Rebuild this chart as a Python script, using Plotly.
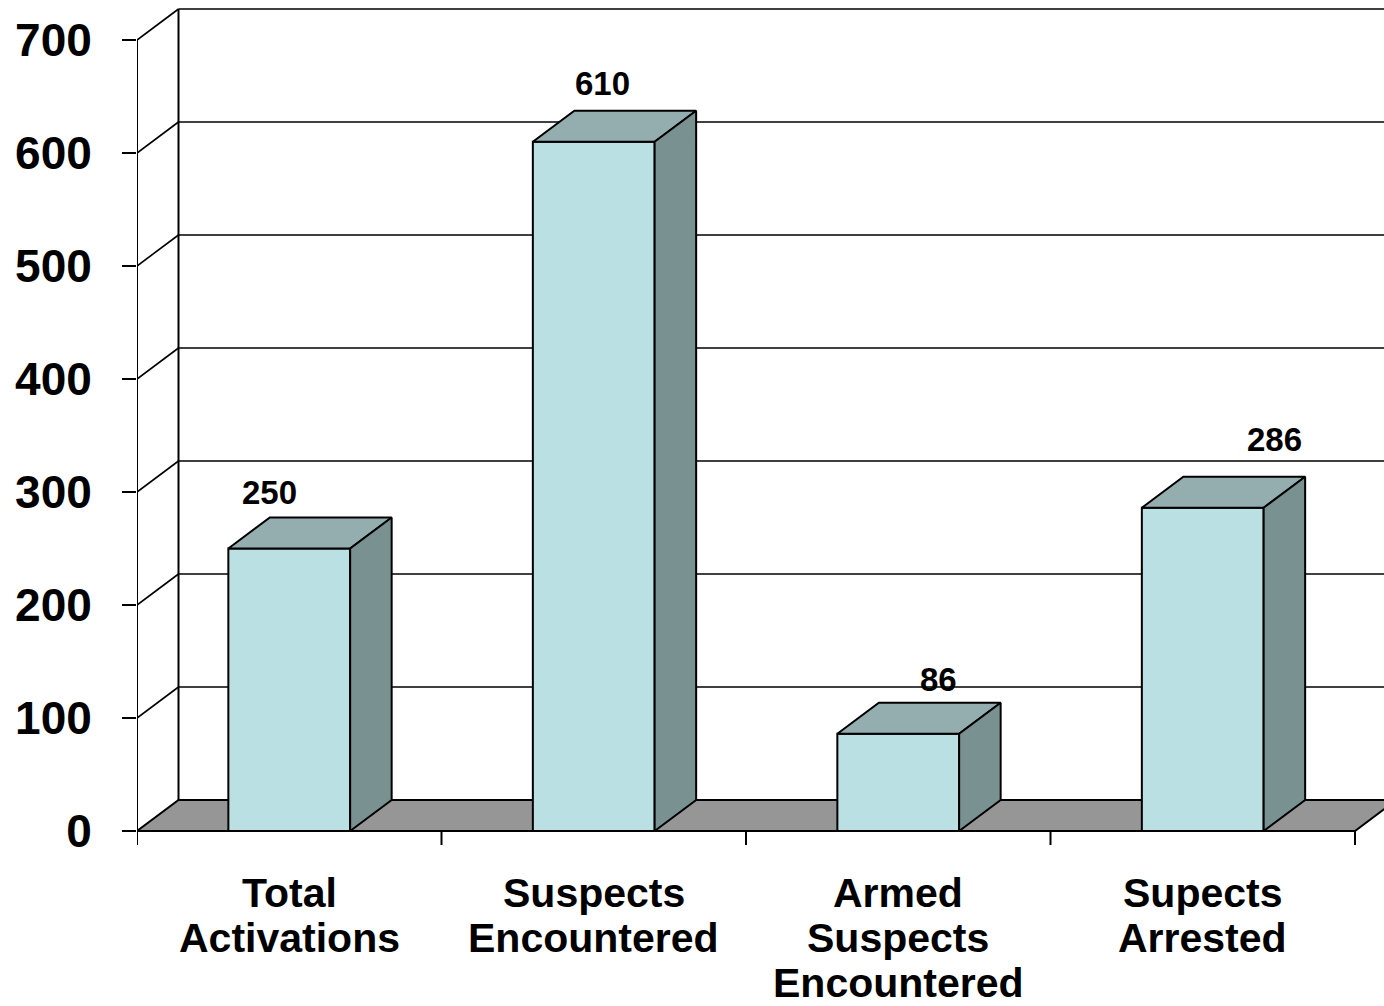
import plotly.graph_objects as go

# ---------------- data ----------------
category_lines = [
    ["Total", "Activations"],
    ["Suspects", "Encountered"],
    ["Armed", "Suspects", "Encountered"],
    ["Supects", "Arrested"],
]
values = [250, 610, 86, 286]
value_labels = ["250", "610", "86", "286"]
y_ticks = [0, 100, 200, 300, 400, 500, 600, 700]

# ---------------- style ----------------
FONT = "Liberation Sans, Arial, sans-serif"
FRONT = "#BBE0E4"
TOP = "#94ADAF"
SIDE = "#7A9192"
FLOOR = "#969696"
W, H = 1384, 1006
ML, MB = 137, 156
px_per_cat = 304.5
px_per_unit = 1.13
depth_px = (41.5, 31.0)
bar_half = 0.2
label_xshift = [-20, 9, 40, 72]
label_yshift = [25, 27, 23, 37]

n = len(values)
x0, x1 = -0.5, -0.5 + (W - ML) / px_per_cat
y1 = 831 / px_per_unit
y0 = y1 - (H - MB) / px_per_unit
ddx = depth_px[0] / px_per_cat
ddy = depth_px[1] / px_per_unit
ymax_tick = y_ticks[-1]

fig = go.Figure()
shapes = []

def line(xa, ya, xb, yb, w=1.6):
    shapes.append(dict(type="line", xref="x", yref="y", x0=xa, y0=ya, x1=xb, y1=yb,
                       line=dict(color="black", width=w), layer="below"))

# back wall gridlines
for v in y_ticks[1:]:
    line(-0.5 + ddx, v + ddy, n - 0.5 + ddx + 1, v + ddy)
# left wall diagonals
for v in y_ticks[1:]:
    line(-0.5, v, -0.5 + ddx, v + ddy)
# back-left vertical and front-left vertical
line(-0.5 + ddx, ddy, -0.5 + ddx, ymax_tick + ddy, 2)
line(-0.5, 0, -0.5, ymax_tick, 2)
# floor
fx = [-0.5, -0.5 + ddx, n - 0.5 + ddx, n - 0.5]
fy = [0, ddy, ddy, 0]
path = "M " + " L ".join(f"{a},{b}" for a, b in zip(fx, fy)) + " Z"
shapes.append(dict(type="path", xref="x", yref="y", path=path, fillcolor=FLOOR,
                   line=dict(color="black", width=2), layer="below"))
# x category ticks
for i in range(n + 1):
    line(i - 0.5, 0, i - 0.5, -14 / px_per_unit, 2)

# bars (front, top, side faces)
for i, v in enumerate(values):
    a, b = i - bar_half, i + bar_half
    faces = [
        ([a, b, b, a, a], [0, 0, v, v, 0], FRONT),
        ([a, a + ddx, b + ddx, b, a], [v, v + ddy, v + ddy, v, v], TOP),
        ([b, b + ddx, b + ddx, b, b], [0, ddy, v + ddy, v, 0], SIDE),
    ]
    for xs, ys, col in faces:
        fig.add_trace(go.Scatter(x=xs, y=ys, mode="lines", fill="toself", fillcolor=col,
                                 line=dict(color="black", width=2), hoverinfo="skip",
                                 showlegend=False))

annotations = []
# value labels
for i, (v, t) in enumerate(zip(values, value_labels)):
    annotations.append(dict(x=i, y=v + ddy, xref="x", yref="y", text=t, showarrow=False,
                            xanchor="center", yanchor="middle",
                            xshift=label_xshift[i], yshift=label_yshift[i],
                            font=dict(family=FONT, size=33, color="black", weight="bold")))
# category labels
for i, lines in enumerate(category_lines):
    for k, t in enumerate(lines):
        annotations.append(dict(x=i, y=0, xref="x", yref="y", text=t, showarrow=False,
                                xanchor="center", yanchor="middle",
                                yshift=-(61.5 + 45 * k),
                                font=dict(family=FONT, size=41, color="black", weight="bold")))

fig.update_layout(
    width=W, height=H,
    margin=dict(l=ML, r=0, t=0, b=MB, pad=0),
    paper_bgcolor="white", plot_bgcolor="white",
    shapes=shapes, annotations=annotations,
    xaxis=dict(range=[x0, x1], showgrid=False, zeroline=False, showline=False,
               showticklabels=False, ticks=""),
    yaxis=dict(range=[y0, y1], showgrid=False, zeroline=False, showline=False,
               tickvals=y_ticks, ticktext=[str(t) for t in y_ticks],
               ticks="outside", ticklen=14, tickwidth=2, tickcolor="black",
               ticklabelstandoff=21,
               tickfont=dict(family=FONT, size=46, color="black", weight="bold")),
)

fig.write_html("out.html", config={"displayModeBar": False},
               post_script="document.body.style.margin='0';document.body.style.overflow='hidden';")
